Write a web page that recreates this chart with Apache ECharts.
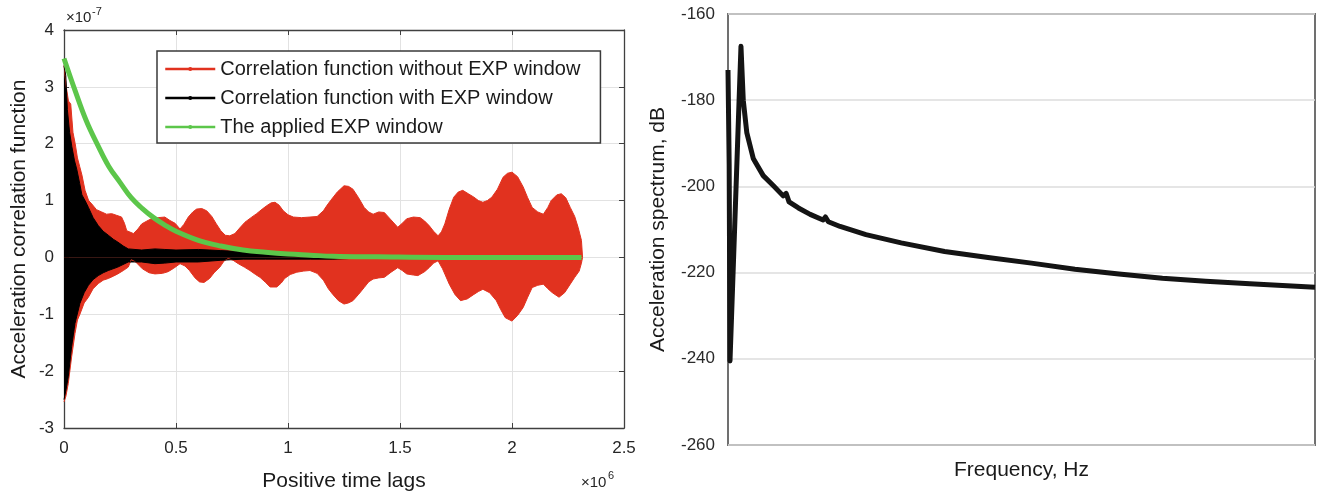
<!DOCTYPE html>
<html lang="en" style="height: 100%">
<head>
    <meta charset="UTF-8">
    <title>Correlation function and spectrum</title>
    <script src="https://cdn.jsdelivr.net/npm/echarts@6.0.0/dist/echarts.min.js"></script>
</head>
<body style="height: 100%; margin: 0; background: #fff">
<div id="main" style="width: 1323px; height: 495px"></div>
<script>
    // left panel: lag in 1e6, value in 1e-7 (envelopes of the dense signal)
    var redUpper = [[0,3.38],[0.01,3.0],[0.02,2.75],[0.03,2.7],[0.04,2.2],[0.05,2.0],[0.06,1.75],[0.07,1.6],[0.08,1.45],
        [0.094,1.18],[0.11,1.0],[0.124,0.94],[0.145,0.84],[0.168,0.8],[0.19,0.76],[0.213,0.77],[0.235,0.74],[0.257,0.71],
        [0.27,0.6],[0.28,0.47],[0.31,0.42],[0.33,0.5],[0.347,0.59],[0.37,0.64],[0.39,0.68],[0.42,0.7],[0.45,0.71],
        [0.473,0.65],[0.496,0.6],[0.518,0.5],[0.535,0.58],[0.555,0.71],[0.575,0.8],[0.592,0.85],[0.615,0.86],[0.637,0.82],
        [0.66,0.72],[0.68,0.59],[0.7,0.47],[0.72,0.39],[0.74,0.38],[0.763,0.42],[0.785,0.52],[0.808,0.62],[0.835,0.7],
        [0.86,0.77],[0.885,0.85],[0.905,0.91],[0.925,0.96],[0.942,0.97],[0.96,0.92],[0.979,0.82],[1.0,0.75],[1.024,0.71],
        [1.06,0.7],[1.098,0.71],[1.13,0.72],[1.158,0.82],[1.175,0.92],[1.19,1.0],[1.22,1.15],[1.25,1.26],[1.27,1.25],
        [1.29,1.2],[1.315,1.05],[1.34,0.88],[1.36,0.8],[1.38,0.76],[1.405,0.8],[1.43,0.79],[1.46,0.66],[1.49,0.53],
        [1.51,0.6],[1.53,0.68],[1.56,0.71],[1.59,0.7],[1.61,0.64],[1.63,0.56],[1.65,0.46],[1.67,0.38],[1.685,0.45],
        [1.7,0.59],[1.72,0.85],[1.74,1.06],[1.76,1.15],[1.78,1.18],[1.805,1.12],[1.83,1.06],[1.85,1.0],[1.87,0.97],
        [1.89,1.0],[1.91,1.06],[1.935,1.2],[1.96,1.41],[1.98,1.48],[2.0,1.5],[2.025,1.42],[2.05,1.24],[2.07,1.05],
        [2.09,0.88],[2.115,0.8],[2.14,0.76],[2.16,0.88],[2.175,1.0],[2.2,1.1],[2.22,1.12],[2.24,1.05],[2.26,0.88],
        [2.28,0.72],[2.295,0.53],[2.31,0.3],[2.315,0]];
    var redLower = [[0,-2.54],[0.008,-2.45],[0.019,-2.22],[0.034,-1.75],[0.049,-1.34],[0.06,-1.1],[0.071,-1.0],[0.09,-0.8],
        [0.109,-0.7],[0.13,-0.55],[0.153,-0.46],[0.175,-0.4],[0.198,-0.37],[0.22,-0.33],[0.24,-0.29],[0.265,-0.23],
        [0.287,-0.17],[0.3,-0.04],[0.32,-0.08],[0.35,-0.2],[0.38,-0.27],[0.406,-0.29],[0.44,-0.28],[0.465,-0.25],
        [0.49,-0.19],[0.518,-0.11],[0.54,-0.15],[0.56,-0.23],[0.585,-0.36],[0.605,-0.43],[0.625,-0.44],[0.65,-0.37],
        [0.67,-0.27],[0.696,-0.17],[0.715,-0.06],[0.733,-0.02],[0.755,-0.05],[0.778,-0.11],[0.805,-0.17],[0.83,-0.23],
        [0.855,-0.3],[0.875,-0.35],[0.9,-0.44],[0.92,-0.52],[0.95,-0.52],[0.97,-0.45],[0.985,-0.37],[1.01,-0.3],
        [1.039,-0.26],[1.07,-0.24],[1.098,-0.23],[1.13,-0.28],[1.158,-0.4],[1.18,-0.55],[1.2,-0.65],[1.225,-0.76],
        [1.25,-0.82],[1.27,-0.8],[1.29,-0.76],[1.315,-0.65],[1.34,-0.53],[1.36,-0.43],[1.38,-0.38],[1.405,-0.36],
        [1.43,-0.35],[1.46,-0.26],[1.49,-0.18],[1.51,-0.23],[1.53,-0.29],[1.56,-0.31],[1.58,-0.32],[1.61,-0.25],
        [1.63,-0.18],[1.65,-0.1],[1.67,-0.06],[1.69,-0.2],[1.72,-0.47],[1.745,-0.65],[1.77,-0.76],[1.8,-0.73],
        [1.83,-0.65],[1.85,-0.6],[1.87,-0.56],[1.9,-0.62],[1.93,-0.76],[1.95,-0.92],[1.97,-1.06],[2.0,-1.12],
        [2.025,-1.02],[2.05,-0.88],[2.07,-0.7],[2.09,-0.53],[2.115,-0.49],[2.14,-0.47],[2.16,-0.55],[2.18,-0.62],
        [2.21,-0.7],[2.235,-0.62],[2.26,-0.47],[2.28,-0.35],[2.3,-0.24],[2.31,-0.1],[2.315,0]];
    var blackUpper = [[0,3.37],[0.008,3.2],[0.015,2.6],[0.025,2.2],[0.035,1.95],[0.047,1.7],[0.057,1.55],[0.07,1.3],
        [0.08,1.1],[0.094,1.0],[0.109,0.88],[0.13,0.7],[0.153,0.56],[0.175,0.46],[0.198,0.39],[0.22,0.32],[0.24,0.27],
        [0.265,0.2],[0.287,0.15],[0.347,0.13],[0.406,0.15],[0.45,0.14],[0.5,0.13],[0.6,0.14],[0.7,0.12],[0.8,0.1],
        [0.9,0.07],[1.0,0.04],[1.1,0.03],[1.2,0.02],[1.27,0.01]];
    var blackLower = [[0,-2.5],[0.008,-2.35],[0.019,-2.1],[0.034,-1.57],[0.049,-1.16],[0.071,-0.81],[0.09,-0.62],
        [0.109,-0.49],[0.13,-0.39],[0.153,-0.32],[0.175,-0.27],[0.198,-0.23],[0.24,-0.17],[0.287,-0.08],[0.347,-0.08],
        [0.406,-0.11],[0.45,-0.1],[0.5,-0.08],[0.6,-0.08],[0.7,-0.05],[0.8,-0.03],[0.9,-0.03],[1.0,-0.03],[1.1,-0.03],
        [1.2,-0.03],[1.27,-0.02]];
    var expWindow = [[0,3.5],[0.05,2.93],[0.1,2.4],[0.15,1.98],[0.2,1.6],[0.25,1.32],[0.3,1.05],[0.35,0.86],[0.4,0.7],
        [0.45,0.57],[0.5,0.46],[0.6,0.3],[0.7,0.2],[0.8,0.13],[0.9,0.09],[1.0,0.06],[1.1,0.04],[1.2,0.02],[1.4,0.01],
        [1.7,0],[2.0,0],[2.31,0]];
    // right panel: frequency (relative, 0-100), spectrum in dB
    var spectrum = [[0,-173],[0.2,-195],[0.34,-240.5],[2.21,-167.5],[2.6,-180],[3.2,-187.5],[4.3,-193.5],[6.0,-197.5],
        [7.7,-199.8],[9.4,-202.2],[9.9,-201.6],[10.4,-203.6],[12,-205],[14,-206.5],[16.2,-207.8],[16.6,-207.1],
        [17.1,-208.2],[19.1,-209.3],[23.5,-211.2],[29.5,-213.1],[36.9,-215.1],[44.3,-216.5],[51.7,-217.8],
        [59.1,-219.2],[66.6,-220.3],[74,-221.3],[81.4,-222.0],[88.9,-222.6],[100,-223.4]];

    var names = ['Correlation function without EXP window', 'Correlation function with EXP window', 'The applied EXP window'];
    var RED = '#e1321f', BLACK = '#000000', GREEN = '#5cc64a';
    var FONT = 'Liberation Sans, Arial, sans-serif';

    function band(name, data, color) {
        return {
            name: name, type: 'line', xAxisIndex: 0, yAxisIndex: 0, data: data,
            symbol: 'circle', showSymbol: false, silent: true,
            lineStyle: {color: color, width: 1}, itemStyle: {color: color},
            areaStyle: {color: color, opacity: 1}
        };
    }

    var frame = {show: true, onZero: false, lineStyle: {color: '#404040', width: 1.3}};
    var ticks = {show: true, inside: true, length: 5, lineStyle: {color: '#404040'}};

    var myoption = {
        animation: false,
        textStyle: {fontFamily: FONT},
        grid: [
            {left: 64, top: 30, width: 560, height: 398, outerBoundsMode: 'none'},
            {left: 728, top: 14, width: 587, height: 431, show: true, borderColor: '#707070', borderWidth: 2, outerBoundsMode: 'none'}
        ],
        legend: {
            data: names,
            orient: 'vertical',
            left: 157, top: 51,
            padding: [8, 20, 6, 7],
            itemWidth: 50, itemHeight: 5, itemGap: 9,
            backgroundColor: '#fff', borderColor: '#3a3a3a', borderWidth: 1.5, borderRadius: 0,
            lineStyle: {width: 2.5},
            textStyle: {fontSize: 20, color: '#1a1a1a', fontFamily: FONT}
        },
        xAxis: [
            {type: 'value', gridIndex: 0, min: 0, max: 2.5, interval: 0.5,
                axisLine: frame, axisTick: ticks,
                axisLabel: {fontSize: 17, color: '#262626', margin: 12},
                splitLine: {show: true, lineStyle: {color: '#e2e2e2', width: 1}},
                name: 'Positive time lags', nameLocation: 'middle', nameGap: 43,
                nameTextStyle: {fontSize: 21, color: '#1a1a1a'}},
            {type: 'value', gridIndex: 0, position: 'top', min: 0, max: 2.5, interval: 0.5,
                axisLine: frame, axisTick: ticks, axisLabel: {show: false}, splitLine: {show: false}},
            {type: 'value', gridIndex: 1, min: 0, max: 100,
                axisLine: {show: false}, axisTick: {show: false}, axisLabel: {show: false}, splitLine: {show: false},
                name: 'Frequency, Hz', nameLocation: 'middle', nameGap: 15,
                nameTextStyle: {fontSize: 21, color: '#1a1a1a'}}
        ],
        yAxis: [
            {type: 'value', gridIndex: 0, min: -3, max: 4, interval: 1,
                axisLine: frame, axisTick: ticks,
                axisLabel: {fontSize: 17, color: '#262626', margin: 10},
                splitLine: {show: true, lineStyle: {color: '#e2e2e2', width: 1}},
                name: 'Acceleration correlation function', nameLocation: 'middle', nameGap: 34,
                nameTextStyle: {fontSize: 21, color: '#1a1a1a'}},
            {type: 'value', gridIndex: 0, position: 'right', min: -3, max: 4, interval: 1,
                axisLine: frame, axisTick: ticks, axisLabel: {show: false}, splitLine: {show: false}},
            {type: 'value', gridIndex: 1, min: -260, max: -160, interval: 20,
                axisLine: {show: false}, axisTick: {show: false},
                axisLabel: {fontSize: 17, color: '#2a2a2a', margin: 13},
                splitLine: {show: true, lineStyle: {color: '#dcdcdc', width: 1.5}},
                name: 'Acceleration spectrum, dB', nameLocation: 'middle', nameGap: 59,
                nameTextStyle: {fontSize: 21, color: '#1a1a1a'}}
        ],
        graphic: [
            {type: 'text', left: 66, top: 10, style: {text: '\u00d710', fontSize: 15, fill: '#262626', fontFamily: FONT}},
            {type: 'text', left: 92, top: 6, style: {text: '-7', fontSize: 11, fill: '#262626', fontFamily: FONT}},
            {type: 'text', left: 581, top: 475, style: {text: '\u00d710', fontSize: 15, fill: '#262626', fontFamily: FONT}},
            {type: 'text', left: 608, top: 470, style: {text: '6', fontSize: 11, fill: '#262626', fontFamily: FONT}}
        ],
        series: [
            band(names[0], redUpper, RED),
            band('red lower', redLower, RED),
            band(names[1], blackUpper, BLACK),
            band('black lower', blackLower, BLACK),
            {name: names[2], type: 'line', xAxisIndex: 0, yAxisIndex: 0, data: expWindow,
                symbol: 'circle', showSymbol: false, silent: true, smooth: 0.4,
                lineStyle: {color: GREEN, width: 5}, itemStyle: {color: GREEN}},
            {name: 'spectrum', type: 'line', xAxisIndex: 2, yAxisIndex: 2, data: spectrum,
                symbol: 'none', silent: true,
                lineStyle: {color: '#141414', width: 5, join: 'round'}}
        ]
    };
    var myChart = echarts.init(document.getElementById('main'));
    myChart.setOption(myoption);
</script>
</body>
</html>
